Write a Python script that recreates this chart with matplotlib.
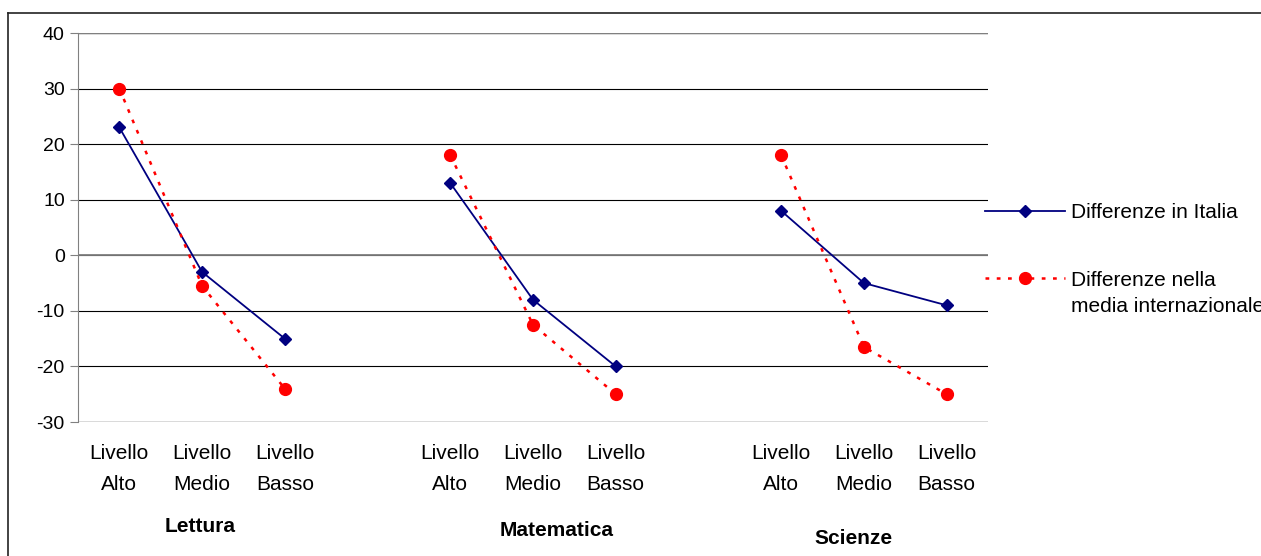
import numpy as np
import matplotlib
matplotlib.use('Agg')
from matplotlib import pyplot as plt
from matplotlib.lines import Line2D
from matplotlib.transforms import blended_transform_factory

plt.rcParams['font.family'] = ['Liberation Sans', 'DejaVu Sans']
plt.rcParams['axes.unicode_minus'] = False

# 11 category slots: three groups of three levels, blank slot between groups
categories = ['Livello\nAlto', 'Livello\nMedio', 'Livello\nBasso', '',
              'Livello\nAlto', 'Livello\nMedio', 'Livello\nBasso', '',
              'Livello\nAlto', 'Livello\nMedio', 'Livello\nBasso']
groups = ['Lettura', 'Matematica', 'Scienze']
italia = [23, -3, -15, np.nan, 13, -8, -20, np.nan, 8, -5, -9]
internazionale = [30, -5.5, -24, np.nan, 18, -12.5, -25, np.nan, 18, -16.5, -25]

W, H = 1261, 556
fig = plt.figure(figsize=(W / 100, H / 100), dpi=100)
ax = fig.add_axes([78 / W, 1 - 422 / H, (988 - 78) / W, (422 - 33) / H])

x = np.arange(len(categories))
ax.plot(x, italia, color='#000080', lw=1.3, marker='D', markersize=6.5,
        label='Differenze in Italia', zorder=3)
ax.plot(x, internazionale, color='#ff0000', lw=1.8, ls=(0, (1.5, 3)),
        marker='o', markersize=8.5, label='Differenze nella', zorder=3)

ax.set_xlim(-0.5, len(categories) - 0.5)
ax.set_ylim(-30, 40)
ax.set_yticks(range(-30, 41, 10))
ax.set_xticks(x)
ax.set_xticklabels(categories, fontsize=15, linespacing=1.8)
ax.tick_params(axis='x', length=0, pad=15.5)
ax.tick_params(axis='y', labelsize=14, length=6, color='#808080', direction='out')
ax.yaxis.grid(True, color='black', lw=0.8)
ax.set_axisbelow(True)
ax.axhline(0, color='#808080', lw=1.3, zorder=1)
for side in ['top', 'right', 'bottom']:
    ax.spines[side].set_visible(False)
ax.spines['left'].set_color('#808080')
ax.axhline(-30, color='#808080', lw=1.0, zorder=1)
ax.axhline(40, color='#808080', lw=1.0, zorder=1)

# group labels under the category labels
tr = blended_transform_factory(ax.transData, fig.transFigure)
group_x = [0.98, 5.28, 8.88]
group_y = [1 - 526 / H, 1 - 530 / H, 1 - 538 / H]
for g, gx, gy in zip(groups, group_x, group_y):
    ax.text(gx, gy, g, transform=tr, ha='center', va='center',
            fontsize=15, fontweight='bold')

leg = fig.legend(loc='upper left', bbox_to_anchor=(985 / W, 1 - 203 / H),
                 frameon=False, fontsize=15, handlelength=3.85,
                 handletextpad=0.29, borderpad=0, borderaxespad=0,
                 labelspacing=2.34)
fig.text(1071 / W, 1 - 307 / H, 'media internazionale', fontsize=15,
         ha='left', va='center')

# outer chart border
fig.add_artist(Line2D([8 / W, 8 / W], [0, 1 - 13 / H], color='#222222', lw=1.2))
fig.add_artist(Line2D([8 / W, 1], [1 - 13 / H, 1 - 13 / H], color='#222222', lw=1.2))

fig.savefig('out.png', dpi=100)
